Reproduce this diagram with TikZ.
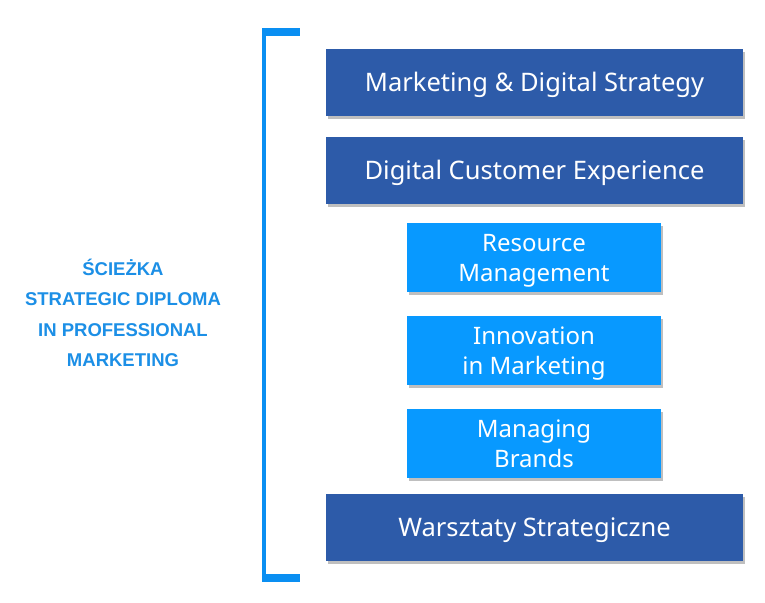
\documentclass[tikz,border=0pt]{standalone}
\usepackage{fontspec}
\setmainfont{Noto Sans}
\newfontfamily\titlefont{Liberation Sans}
\usetikzlibrary{shadows}
\definecolor{darkbox}{HTML}{2D5BA9}
\definecolor{lightbox}{HTML}{0899FF}
\definecolor{bracketblue}{HTML}{0A8FF2}
\definecolor{titleblue}{HTML}{1C8FE6}
\tikzset{
  boxshadow/.style={drop shadow={shadow xshift=2pt,shadow yshift=-3pt,opacity=0.25,fill=black}},
  widebox/.style={rectangle,fill=darkbox,text=white,minimum width=417pt,minimum height=67pt,inner sep=0pt,boxshadow,text height=18.4pt,text depth=0pt,font=\fontsize{25.5}{30}\selectfont},
  narrowbox/.style={rectangle,fill=lightbox,text=white,minimum width=254pt,minimum height=69pt,inner sep=0pt,boxshadow,align=center,text height=47.3pt,text depth=0pt,font=\fontsize{24}{30}\selectfont},
  titletext/.style={text=titleblue,align=center,font=\titlefont\bfseries\fontsize{18.5}{30.5}\selectfont},
  bracketbar/.style={fill=bracketblue},
}
\begin{document}
\begin{tikzpicture}[x=1pt,y=-1pt]
\path[use as bounding box,fill=white] (0,0) rectangle (765,602);
% bracket
\coordinate (bt) at (264,32);
\coordinate (bb) at (264,578);
\draw[bracketblue,line width=4pt] (bt) -- (bb);
\fill[bracketbar] (262,28) rectangle (300,36);
\fill[bracketbar] (262,574) rectangle (300,582);
% boxes
\node[widebox] (b1) at (534.5,82.5) {Marketing \& Digital Strategy};
\node[widebox] (b2) at (534.5,170) {Digital Customer Experience};
\node[narrowbox] (b3) at (534,257.5) {Resource\\Management};
\node[narrowbox] (b4) at (534,350.5) {Innovation\\in Marketing};
\node[narrowbox] (b5) at (534,443.5) {Managing\\Brands};
\node[widebox] (b6) at (534.5,527.5) {Warsztaty Strategiczne};
% title
\node[titletext] (t) at (123,313) {ŚCIEŻKA\\STRATEGIC DIPLOMA\\IN PROFESSIONAL\\MARKETING};
\end{tikzpicture}
\end{document}
